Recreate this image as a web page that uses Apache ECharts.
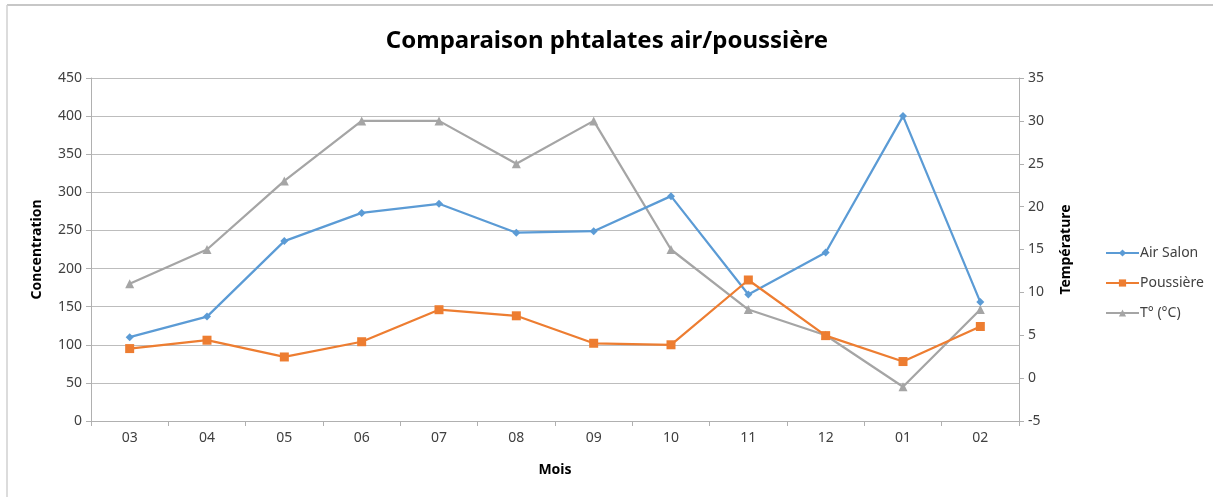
<!DOCTYPE html>
<html>
<head>
<meta charset="utf-8">
<script src="https://cdn.jsdelivr.net/npm/echarts@6/dist/echarts.min.js"></script>
<style>
  html, body { margin: 0; padding: 0; background: #ffffff; }
  #chart { width: 1214px; height: 497px; }
</style>
</head>
<body>
<div id="chart"></div>
<script>
// Months of the sampling campaign
const months = ['03', '04', '05', '06', '07', '08', '09', '10', '11', '12', '01', '02'];

// Phthalate concentrations
const airSalon = [110, 137, 236, 273, 285, 247, 249, 295, 166, 221, 400, 156];
const poussiere = [95, 106, 84, 104, 146, 138, 102, 100, 185, 112, 78, 124];

// Temperature in °C (right axis)
const temperature = [11, 15, 23, 30, 30, 25, 30, 15, 8, 5, -1, 8];

const FONT = '"Noto Sans", "Open Sans", sans-serif';

const chart = echarts.init(document.getElementById('chart'), null, { renderer: 'canvas' });

chart.setOption({
  backgroundColor: '#ffffff',
  animation: false,
  title: {
    text: 'Comparaison phtalates air/poussière',
    left: 'center',
    top: 24,
    textStyle: { fontFamily: FONT, fontWeight: 'bold', fontSize: 24, color: '#000000' }
  },
  graphic: [
    { type: 'line', shape: { x1: 7, y1: 5, x2: 1213, y2: 5 }, style: { stroke: '#b5b5b5', lineWidth: 1.5 } },
    { type: 'line', shape: { x1: 7, y1: 5, x2: 7, y2: 497 }, style: { stroke: '#d0d0d0', lineWidth: 1.5 } }
  ],
  legend: {
    orient: 'vertical',
    left: 1100,
    top: 241,
    itemWidth: 33,
    itemHeight: 9,
    itemGap: 16,
    textStyle: { fontFamily: FONT, fontSize: 14, color: '#404040', padding: [0, 0, 0, -4] },
    data: ['Air Salon', 'Poussière', 'T° (°C)']
  },
  grid: { left: 91, right: 195, top: 78, bottom: 76, containLabel: false },
  xAxis: {
    type: 'category',
    data: months,
    boundaryGap: true,
    name: 'Mois',
    nameLocation: 'middle',
    nameGap: 42,
    nameTextStyle: { fontFamily: FONT, fontWeight: 'bold', fontSize: 14, color: '#000000' },
    axisLine: { lineStyle: { color: '#b0b0b0', width: 1 } },
    axisTick: { show: true, alignWithLabel: false, length: 5, lineStyle: { color: '#b0b0b0' } },
    axisLabel: { fontFamily: FONT, fontSize: 14, color: '#404040', margin: 10 }
  },
  yAxis: [
    {
      type: 'value',
      min: 0,
      max: 450,
      interval: 50,
      position: 'left',
      name: 'Concentration',
      nameLocation: 'middle',
      nameRotate: 90,
      nameGap: 47,
      nameTextStyle: { fontFamily: FONT, fontWeight: 'bold', fontSize: 14, color: '#000000' },
      axisLine: { show: true, lineStyle: { color: '#b0b0b0' } },
      axisTick: { show: true, length: 5, lineStyle: { color: '#b0b0b0' } },
      axisLabel: { fontFamily: FONT, fontSize: 14, color: '#404040', margin: 9 },
      splitLine: { show: true, lineStyle: { color: '#bdbdbd', width: 1 } }
    },
    {
      type: 'value',
      min: -5,
      max: 35,
      interval: 5,
      position: 'right',
      name: 'Température',
      nameLocation: 'middle',
      nameRotate: 90,
      nameGap: 40,
      nameTextStyle: { fontFamily: FONT, fontWeight: 'bold', fontSize: 14, color: '#000000' },
      axisLine: { show: true, lineStyle: { color: '#b0b0b0' } },
      axisTick: { show: true, length: 5, lineStyle: { color: '#b0b0b0' } },
      axisLabel: { fontFamily: FONT, fontSize: 14, color: '#404040', margin: 9 },
      splitLine: { show: false }
    }
  ],
  series: [
    {
      name: 'Air Salon',
      type: 'line',
      data: airSalon,
      yAxisIndex: 0,
      symbol: 'diamond',
      symbolSize: 8,
      color: '#5B9BD5',
      lineStyle: { width: 2.25 },
      z: 3
    },
    {
      name: 'Poussière',
      type: 'line',
      data: poussiere,
      yAxisIndex: 0,
      symbol: 'rect',
      symbolSize: 9,
      color: '#ED7D31',
      lineStyle: { width: 2.25 },
      z: 4
    },
    {
      name: 'T° (°C)',
      type: 'line',
      data: temperature,
      yAxisIndex: 1,
      symbol: 'triangle',
      symbolSize: 9,
      color: '#A5A5A5',
      lineStyle: { width: 2.25 },
      z: 2
    }
  ]
});
</script>
</body>
</html>
